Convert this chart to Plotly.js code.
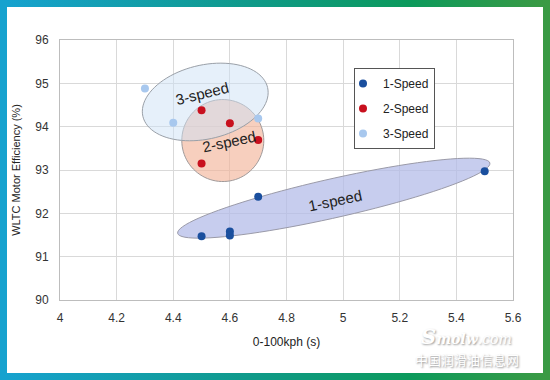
<!DOCTYPE html>
<html>
<head>
<meta charset="utf-8">
<script src="https://cdn.plot.ly/plotly-3.0.1.min.js"></script>
<style>
html,body{margin:0;padding:0;background:#fff;}
#wrap{position:relative;width:550px;height:380px;}
#chart{width:550px;height:380px;}
#frame{position:absolute;left:0;top:0;width:550px;height:380px;box-sizing:border-box;border:7px solid;border-image:linear-gradient(to right,#16a2cf,#0f9a8a 45%,#0c9a5c 75%,#3a9a44) 1;pointer-events:none;}
</style>
</head>
<body>
<div id="wrap"><div id="chart"></div><div id="frame"></div></div>
<script>
// ---- data ----
const seriesNames = ['1-Speed', '2-Speed', '3-Speed'];
const speed1X = [4.5, 4.6, 4.6, 4.7, 5.5];
const speed1Y = [91.47, 91.58, 91.49, 92.38, 92.97];
const speed2X = [4.5, 4.6, 4.7, 4.5];
const speed2Y = [94.38, 94.08, 93.69, 93.15];
const speed3X = [4.3, 4.4, 4.7];
const speed3Y = [94.88, 94.09, 94.19];
const xTicks = [4, 4.2, 4.4, 4.6, 4.8, 5, 5.2, 5.4, 5.6];
const yTicks = [90, 91, 92, 93, 94, 95, 96];
const groupLabels = ['1-speed', '2-speed', '3-speed'];
// group ellipse centres (data units)
const groupCx = [4.967, 4.575, 4.508];
const groupCy = [92.35, 93.68, 94.57];

const W = 550, H = 380, M = {l: 60, r: 37, t: 40, b: 80};
const xr = [4, 5.6], yr = [90, 96];
const kx = (W - M.l - M.r) / (xr[1] - xr[0]);
const ky = (H - M.t - M.b) / (yr[1] - yr[0]);

function ellipsePath(cx, cy, a, b, angDeg) {
  const th = angDeg * Math.PI / 180;
  let d = '';
  const n = 90;
  for (let i = 0; i <= n; i++) {
    const t = 2 * Math.PI * i / n;
    const px = a * Math.cos(t), py = b * Math.sin(t);
    const dx = px * Math.cos(th) - py * Math.sin(th);
    const dy = px * Math.sin(th) + py * Math.cos(th);
    const x = cx + dx / kx, y = cy + dy / ky;
    d += (i === 0 ? 'M' : 'L') + x.toFixed(5) + ',' + y.toFixed(5);
  }
  return d + 'Z';
}

const font = 'Liberation Sans, Arial, sans-serif';
const mk = (x, y, name, color) => ({
  x, y, name, type: 'scatter', mode: 'markers', legendgroup: name,
  marker: {color, size: 8}, hoverinfo: 'x+y'
});
const traces = [
  mk(speed1X, speed1Y, seriesNames[0], '#1a4f9e'),
  mk(speed2X, speed2Y, seriesNames[1], '#c8101e'),
  mk(speed3X, speed3Y, seriesNames[2], '#a8c8ee')
];

const shapes = [
  {type: 'path', xref: 'x', yref: 'y', layer: 'between', path: ellipsePath(groupCx[0], groupCy[0], 160, 19.5, 12.7),
   fillcolor: 'rgba(178,186,232,0.72)', line: {color: '#9a9aa8', width: 1}},
  {type: 'path', xref: 'x', yref: 'y', layer: 'between', path: ellipsePath(groupCx[1], groupCy[1], 41, 41, 0),
   fillcolor: 'rgba(242,178,150,0.62)', line: {color: '#a09a9a', width: 1}},
  {type: 'path', xref: 'x', yref: 'y', layer: 'between', path: ellipsePath(groupCx[2] + 0.005, groupCy[2], 64, 37, 13),
   fillcolor: 'rgba(205,225,245,0.5)', line: {color: '#9aa0a8', width: 1}}
];

const px2x = p => (p - M.l) / (W - M.l - M.r);
const px2y = p => (H - M.b - p) / (H - M.t - M.b);
const wmAnn = (x, y, text, f) => ({xref: 'paper', yref: 'paper', x: px2x(x), y: px2y(y), xanchor: 'center', yanchor: 'middle',
  text, showarrow: false, font: f});
const annotations = [
  {x: groupCx[0] + 0.005, y: groupCy[0] - 0.05, text: groupLabels[0], textangle: -12, showarrow: false, font: {family: font, size: 15, color: '#222'}},
  {x: 4.598, y: 93.66, text: groupLabels[1], textangle: -12, showarrow: false, font: {family: font, size: 15, color: '#222'}},
  {x: 4.50, y: 94.77, text: groupLabels[2], textangle: -14, showarrow: false, font: {family: font, size: 15, color: '#222'}},
  wmAnn(467, 359, '中国润滑油信息网', {family: 'Noto Sans CJK SC', size: 13, color: '#ffffff', shadow: '1px 1px 2px #8a8a8a'}),
  wmAnn(466, 336, '<b><i><span style="font-size:21px">S</span>molw</i></b><i>.com</i>',
    {family: 'DejaVu Serif', size: 14, color: '#ffffff', shadow: '1px 1px 2px #9a9a9a'})
];

const layout = {
  width: W, height: H, margin: M,
  paper_bgcolor: '#fff', plot_bgcolor: '#fff',
  font: {family: font, size: 12, color: '#333'},
  showlegend: true,
  legend: {x: px2x(354), y: px2y(68), xanchor: 'left', yanchor: 'top', bordercolor: '#555', borderwidth: 1,
    bgcolor: '#fff', font: {family: font, size: 12, color: '#222'}, traceorder: 'grouped', tracegroupgap: 6, indentation: -12},
  xaxis: {range: xr, tickvals: xTicks, ticktext: xTicks.map(String), showgrid: true, gridcolor: '#d9d9d9',
    zeroline: false, showline: true, linecolor: '#bdbdbd', mirror: true, ticks: 'outside', ticklen: 7, tickcolor: 'rgba(0,0,0,0)',
    tickfont: {size: 12, color: '#333'}, title: {text: '0-100kph (s)', font: {size: 12, color: '#222'}, standoff: 13}, automargin: false},
  yaxis: {range: yr, tickvals: yTicks, showgrid: true, gridcolor: '#d9d9d9',
    zeroline: false, showline: true, linecolor: '#bdbdbd', mirror: true, ticks: 'outside', ticklen: 8, tickcolor: 'rgba(0,0,0,0)',
    tickfont: {size: 12, color: '#333'}, title: {text: 'WLTC Motor Efficiency (%)', font: {size: 11, color: '#222'}, standoff: 12}, automargin: false},
  shapes, annotations
};
Plotly.newPlot('chart', traces, layout, {displayModeBar: false, staticPlot: true});
</script>
</body>
</html>
